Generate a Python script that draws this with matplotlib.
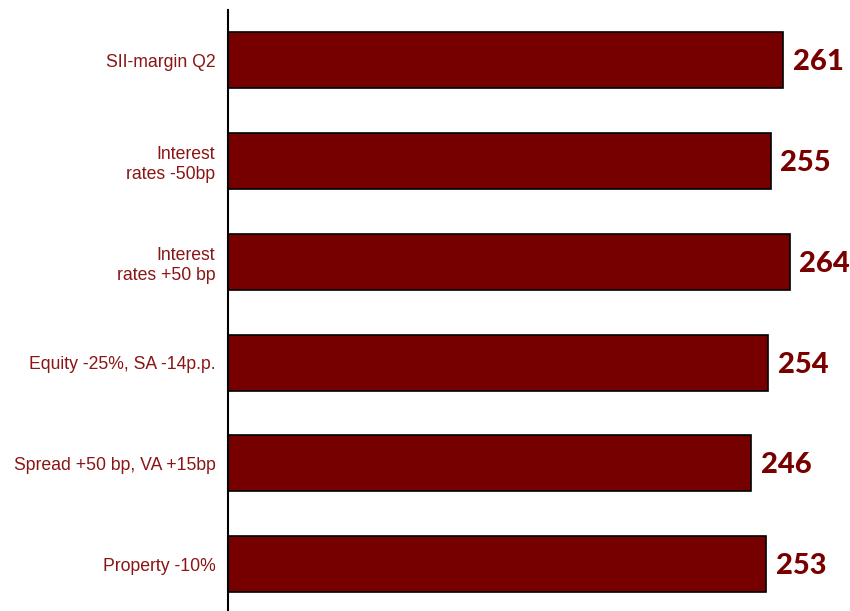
import matplotlib.pyplot as plt

# Data
categories = [
    "SII-margin Q2",
    "Interest\nrates -50bp",
    "Interest\nrates +50 bp",
    "Equity -25%, SA -14p.p.",
    "Spread +50 bp, VA +15bp",
    "Property -10%",
]
values = [261, 255, 264, 254, 246, 253]

bar_color = "#760000"
label_color = "#8a1515"

fig = plt.figure(figsize=(8.5, 6.11), dpi=100)
ax = fig.add_axes([228 / 850, -3.4 / 611, 617 / 850, 604.4 / 611])

pos = list(range(len(values)))
ax.barh(pos, values, height=0.555, color=bar_color, edgecolor="black", linewidth=1.2)

for p, v in zip(pos, values):
    ax.text(v + 4.5, p + 0.02, str(v), va="center", ha="left", fontsize=21,
            fontweight="black", family=["Lato", "DejaVu Sans"], color="#7a0000")

ax.set_yticks(pos)
ax.set_yticklabels(categories, fontsize=12.7, color=label_color,
                   family=["Liberation Sans", "DejaVu Sans"], linespacing=1.25)
ax.tick_params(axis="y", length=0, pad=9)
ax.set_xticks([])
ax.set_xlim(0, 290)
ax.set_ylim(5.5, -0.5)

for s in ["top", "right", "bottom"]:
    ax.spines[s].set_visible(False)
ax.spines["left"].set_linewidth(1.5)

fig.savefig("out.png", dpi=100)
